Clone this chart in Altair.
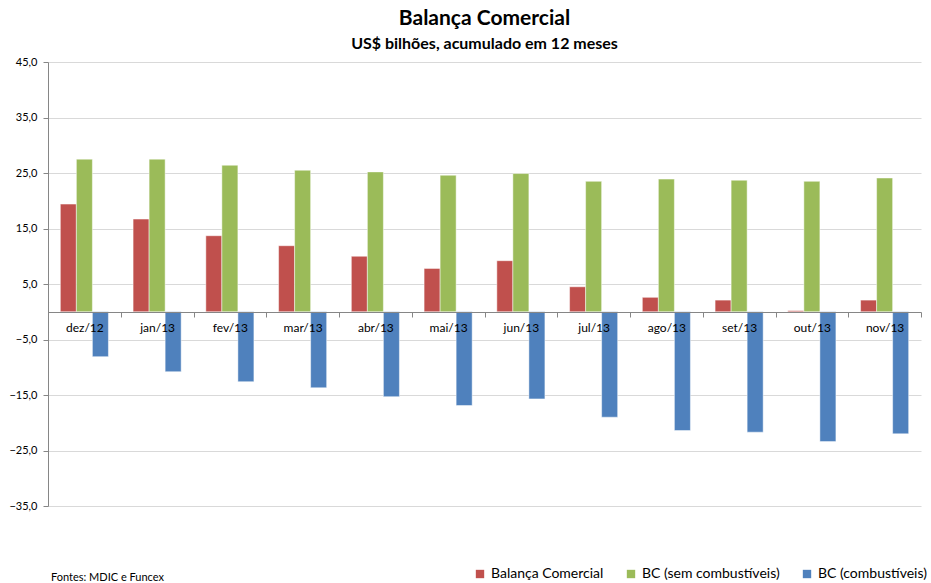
import altair as alt
import pandas as pd

# Monthly 12-month accumulated trade balance, US$ billions
meses = ["dez/12", "jan/13", "fev/13", "mar/13", "abr/13", "mai/13",
         "jun/13", "jul/13", "ago/13", "set/13", "out/13", "nov/13"]
balanca = [19.4, 16.7, 13.7, 11.9, 10.0, 7.8, 9.2, 4.5, 2.6, 2.1, 0.2, 2.1]
sem_comb = [27.5, 27.5, 26.4, 25.5, 25.2, 24.6, 24.9, 23.5, 23.9, 23.7, 23.5, 24.1]
comb = [-8.1, -10.8, -12.6, -13.7, -15.3, -16.9, -15.7, -19.0, -21.4, -21.7, -23.4, -22.0]

series = ["Balança Comercial", "BC (sem combustíveis)", "BC (combustíveis)"]
cores = ["#C0504D", "#9BBB59", "#4F81BD"]
y_ticks = [-35, -25, -15, -5, 5, 15, 25, 35, 45]

rows = []
for i, m in enumerate(meses):
    for s, v in zip(series, (balanca[i], sem_comb[i], comb[i])):
        rows.append({"mes": m, "serie": s, "valor": v})
df = pd.DataFrame(rows)

FONT = "Lato"
W, H = 873, 444

bars = alt.Chart(df).mark_bar(
    stroke="white", strokeOpacity=0.6, strokeWidth=0.8
).encode(
    x=alt.X("mes:N", sort=meses, title=None,
            scale=alt.Scale(paddingInner=0, paddingOuter=0),
            axis=alt.Axis(orient="bottom", offset=-194, zindex=1,
                          labelAngle=0, labelFont=FONT, labelFontSize=12,
                          labelColor="#000000", labelPadding=5,
                          domainColor="#868686", tickColor="#868686",
                          tickBand="extent", tickSize=5, grid=False)),
    xOffset=alt.XOffset("serie:N", sort=series,
                        scale=alt.Scale(paddingInner=0, paddingOuter=0.77)),
    y=alt.Y("valor:Q", title=None,
            scale=alt.Scale(domain=[-35, 45], nice=False, zero=False),
            axis=alt.Axis(values=y_ticks,
                          labelExpr="replace(format(datum.value, '.1f'), '.', ',')",
                          labelFont=FONT, labelFontSize=11, labelColor="#000000",
                          labelPadding=6, domainColor="#868686",
                          tickColor="#868686", tickSize=5,
                          gridColor="#D9D9D9", gridWidth=1)),
    color=alt.Color("serie:N", sort=series,
                    scale=alt.Scale(domain=series, range=cores),
                    legend=alt.Legend(title=None, orient="none",
                                      direction="horizontal",
                                      legendX=425, legendY=505,
                                      symbolType="square", symbolSize=70,
                                      symbolStrokeWidth=0, columnPadding=20,
                                      labelFont=FONT, labelFontSize=14,
                                      labelColor="#000000")),
)

fonte = alt.Chart(pd.DataFrame({"t": ["Fontes: MDIC e Funcex"]})).mark_text(
    align="left", baseline="middle", font=FONT, fontSize=11, color="#000000"
).encode(x=alt.value(3), y=alt.value(516), text="t:N")

chart = alt.layer(bars, fonte).properties(
    width=W, height=H,
    title=alt.TitleParams(
        "Balança Comercial",
        subtitle="US$ bilhões, acumulado em 12 meses",
        font=FONT, fontSize=21, fontWeight="bold", color="#000000",
        subtitleFont=FONT, subtitleFontSize=16, subtitleFontWeight="bold",
        subtitleColor="#000000", subtitlePadding=7, anchor="middle", offset=4),
    autosize=alt.AutoSizeParams(type="none"),
    padding={"left": 48, "top": 62, "right": 10, "bottom": 77},
).configure_view(stroke=None)

chart.save("out.html", embed_options={"renderer": "svg", "actions": False})
